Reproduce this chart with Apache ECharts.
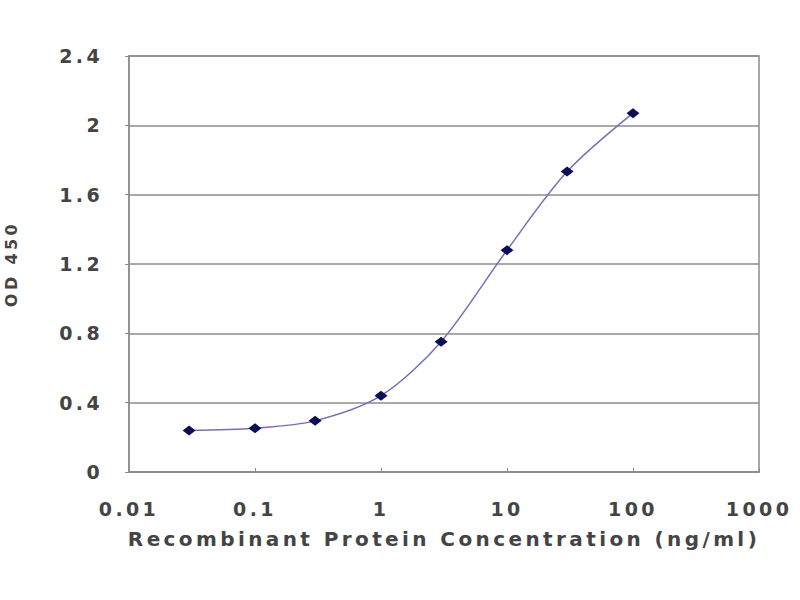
<!DOCTYPE html>
<html>
<head>
<meta charset="utf-8">
<script src="https://cdn.jsdelivr.net/npm/echarts@6/dist/echarts.min.js"></script>
<style>
html,body{margin:0;padding:0;background:#fff}
#c{width:800px;height:600px}
#c svg text{letter-spacing:3.4px}
</style>
</head>
<body>
<div id="c"></div>
<script>
var concentrations = [0.03, 0.1, 0.3, 1, 3, 10, 30, 100];
var od450 = [0.24, 0.253, 0.295, 0.44, 0.752, 1.28, 1.733, 2.07];
var xTitle = 'Recombinant Protein Concentration (ng/ml)';
var yTitle = 'OD 450';

var chart = echarts.init(document.getElementById('c'), null, { renderer: 'svg' });
var pts = concentrations.map(function (c, i) { return [c, od450[i]]; });
var font = 'DejaVu Sans, sans-serif';
chart.setOption({
  animation: false,
  backgroundColor: '#fff',
  grid: { left: 129, right: 41, top: 56, bottom: 128, outerBoundsMode: 'none', containLabel: false,
    show: true, borderColor: '#8c8c8c', borderWidth: 1.5, backgroundColor: 'transparent' },
  xAxis: {
    type: 'log', logBase: 10, min: 0.01, max: 1000,
    name: xTitle, nameLocation: 'middle', nameGap: 57,
    nameTextStyle: { fontFamily: font, fontSize: 20, fontWeight: 'bold', color: '#444' },
    axisLine: { show: true, lineStyle: { color: '#8c8c8c', width: 1.5 } },
    axisTick: { show: true, inside: true, length: 4, lineStyle: { color: '#8c8c8c' } },
    minorTick: { show: false },
    splitLine: { show: false },
    axisLabel: { fontFamily: font, fontSize: 19, fontWeight: 'bold', color: '#444', margin: 27,
      formatter: function (v) { return String(+v.toPrecision(6)); } }
  },
  yAxis: {
    type: 'value', min: 0, max: 2.4, interval: 0.4,
    name: yTitle, nameLocation: 'middle', nameGap: 110, nameRotate: 90,
    nameTextStyle: { fontFamily: font, fontSize: 16, fontWeight: 'bold', color: '#444' },
    axisLine: { show: true, lineStyle: { color: '#8c8c8c', width: 1.5 } },
    axisTick: { show: true, length: 4, lineStyle: { color: '#8c8c8c' } },
    splitLine: { show: true, lineStyle: { color: '#8c8c8c', width: 1.5 } },
    axisLabel: { fontFamily: font, fontSize: 19, fontWeight: 'bold', color: '#444', margin: 26,
      formatter: function (v) { return String(+v.toFixed(1)); } }
  },
  series: [{
    type: 'line', data: pts, smooth: 0.3,
    symbol: 'diamond', symbolSize: [13, 10],
    itemStyle: { color: '#0d0d55' },
    lineStyle: { color: '#7070c0', width: 1.5 }
  }]
});
</script>
</body>
</html>
